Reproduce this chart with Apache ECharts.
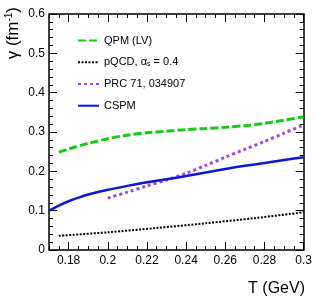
<!DOCTYPE html>
<html>
<head>
<meta charset="utf-8">
<script src="https://cdn.jsdelivr.net/npm/echarts@6/dist/echarts.min.js"></script>
<style>html,body{margin:0;padding:0;background:#fff}#c{width:315px;height:301px}</style>
</head>
<body>
<div id="c"></div>
<script>
// Data
var qpmT   = [0.175, 0.18, 0.19, 0.2, 0.21, 0.22, 0.23, 0.24, 0.25, 0.26, 0.27, 0.28, 0.29, 0.3];
var qpmG   = [0.249, 0.257, 0.271, 0.283, 0.292, 0.298, 0.302, 0.306, 0.309, 0.312, 0.316, 0.322, 0.330, 0.339];
var pqcdT  = [0.175, 0.2, 0.225, 0.25, 0.275, 0.3];
var pqcdG  = [0.036, 0.045, 0.056, 0.068, 0.081, 0.096];
var prcT   = [0.2, 0.21, 0.22, 0.23, 0.24, 0.25, 0.26, 0.27, 0.28, 0.29, 0.3];
var prcG   = [0.132, 0.147, 0.163, 0.178, 0.195, 0.215, 0.236, 0.256, 0.276, 0.297, 0.318];
var cspmT  = [0.17, 0.175, 0.18, 0.185, 0.19, 0.2, 0.21, 0.22, 0.23, 0.24, 0.25, 0.26, 0.27, 0.28, 0.29, 0.3];
var cspmG  = [0.100, 0.113, 0.124, 0.133, 0.141, 0.153, 0.163, 0.172, 0.180, 0.188, 0.197, 0.206, 0.214, 0.221, 0.229, 0.236];
var xMajorTicks = [0.18, 0.2, 0.22, 0.24, 0.26, 0.28, 0.3];
var seriesNames = ['QPM (LV)', 'pQCD, \u03b1s = 0.4', 'PRC 71, 034907', 'CSPM'];

function pairs(xs, ys) { return xs.map(function (x, i) { return [x, ys[i]]; }); }

var FONT = 'Liberation Sans';
var chart = echarts.init(document.getElementById('c'), null, { renderer: 'canvas' });

function xAx(pos, major, labels) {
  var a = {
    type: 'value', position: pos, min: 0.17, max: 0.3,
    splitLine: { show: false },
    axisLine: { show: major, onZero: false, lineStyle: { color: '#000', width: 1.5 } },
    axisTick: { show: true, inside: true, length: major ? 8 : 4, lineStyle: { color: '#000', width: 1 } },
    axisLabel: { show: labels, margin: 5, color: '#000', fontSize: 12, fontFamily: FONT }
  };
  if (major) {
    a.axisTick.customValues = xMajorTicks;
    a.axisLabel.customValues = xMajorTicks;
  } else {
    a.interval = 0.005;
  }
  return a;
}
function yAx(pos, labels) {
  return {
    type: 'value', position: pos, min: 0, max: 0.6, interval: 0.1,
    splitLine: { show: false },
    axisLine: { show: true, onZero: false, lineStyle: { color: '#000', width: 1.5 } },
    axisTick: { show: true, inside: true, length: 8, lineStyle: { color: '#000', width: 1 } },
    minorTick: { show: true, splitNumber: 5, length: 4, lineStyle: { color: '#000', width: 1 } },
    axisLabel: { show: labels, margin: 4, color: '#000', fontSize: 12, fontFamily: FONT }
  };
}

chart.setOption({
  animation: false,
  backgroundColor: '#fff',
  grid: { left: 49, right: 10, top: 14, bottom: 51, containLabel: false },
  xAxis: [xAx('bottom', true, true), xAx('bottom', false, false), xAx('top', true, false), xAx('top', false, false)],
  yAxis: [yAx('left', true), yAx('right', false)],
  legend: {
    orient: 'vertical', left: 72, top: 30, itemWidth: 21, itemHeight: 14, itemGap: 10.5,
    data: seriesNames,
    itemStyle: { opacity: 0 },
    textStyle: {
      fontSize: 11, color: '#000', fontFamily: FONT,
      rich: {
        n: { fontSize: 11, color: '#000', fontFamily: FONT },
        sub: { fontSize: 7, color: '#000', fontFamily: FONT, verticalAlign: 'bottom', padding: [4, 0, 0, 0] }
      }
    },
    formatter: function (name) {
      if (name.indexOf('\u03b1s') >= 0) return '{n|pQCD, \u03b1}{sub|s}{n| = 0.4}';
      return name;
    }
  },
  graphic: [
    {
      type: 'text', x: 13, y: 7, rotation: Math.PI / 2,
      style: {
        text: '{a|\u03b3 (fm}{s|-1}{a|)}', align: 'right', verticalAlign: 'middle',
        rich: {
          a: { fontSize: 17, fontFamily: FONT, fill: '#000', color: '#000' },
          s: { fontSize: 10, fontFamily: FONT, fill: '#000', color: '#000', verticalAlign: 'top', padding: [0, 0, 8, 0] }
        }
      }
    },
    {
      type: 'text', right: 10, top: 281,
      style: { text: 'T (GeV)', fontSize: 16, fontFamily: FONT, fill: '#000' }
    }
  ],
  series: [
    { name: seriesNames[0], type: 'line', xAxisIndex: 0, yAxisIndex: 0, symbol: 'none', smooth: 0.3,
      data: pairs(qpmT, qpmG), lineStyle: { color: '#14cc14', width: 3, type: [8, 3] }, itemStyle: { color: '#14cc14' } },
    { name: seriesNames[1], type: 'line', xAxisIndex: 0, yAxisIndex: 0, symbol: 'none', smooth: 0.3,
      data: pairs(pqcdT, pqcdG), lineStyle: { color: '#000', width: 2, type: [2, 1.5] }, itemStyle: { color: '#000' } },
    { name: seriesNames[2], type: 'line', xAxisIndex: 0, yAxisIndex: 0, symbol: 'none', smooth: 0.3,
      data: pairs(prcT, prcG), lineStyle: { color: '#9b45f2', width: 3, type: [3, 3] }, itemStyle: { color: '#9b45f2' } },
    { name: seriesNames[3], type: 'line', xAxisIndex: 0, yAxisIndex: 0, symbol: 'none', smooth: 0.3,
      data: pairs(cspmT, cspmG), lineStyle: { color: '#0a14e6', width: 2.5 }, itemStyle: { color: '#0a14e6' } }
  ]
});
</script>
</body>
</html>
